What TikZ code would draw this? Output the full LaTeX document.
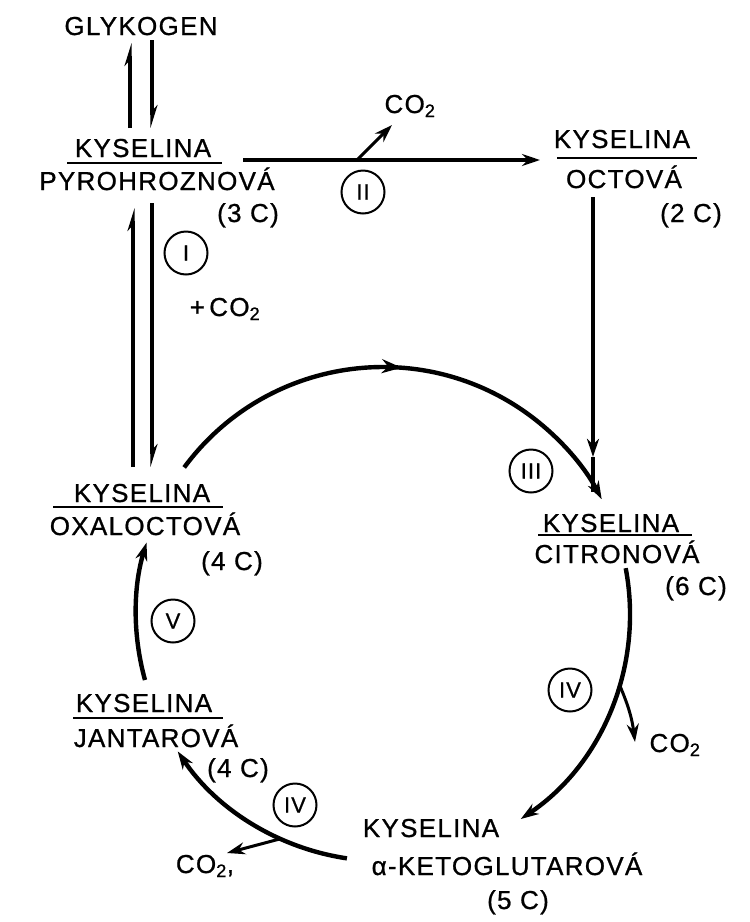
\documentclass[tikz,border=0pt]{standalone}
\usepackage{fontspec}
\setmainfont{Liberation Sans}[LetterSpace=5,FakeBold=0.8]
\usetikzlibrary{arrows.meta,decorations.markings,calc}
\begin{document}
\begin{tikzpicture}[x=1pt,y=-1pt,
  lbl/.style={inner sep=0pt, anchor=base, font=\fontsize{26}{30}\selectfont},
  num/.style={circle, draw, line width=2pt, minimum size=43pt, inner sep=0pt, font=\fontsize{22}{24}\selectfont},
  tip/.style={-{Stealth[length=18pt,width=12pt]}},
  hp/.style={-{Stealth[length=18pt,width=11pt,harpoon]}},
  thk/.style={line width=3.6pt},
  arcl/.style={line width=4.4pt},
  brl/.style={line width=3pt},
  uline/.style={line width=2.2pt},
  midarrow/.style={postaction={decorate}, decoration={markings, mark=at position 0.5 with {\arrow{Stealth[length=20pt,width=14pt]}}}}
]
\useasboundingbox (0,0) rectangle (750,922);

% labels
\node[lbl] (glyk) at (141,35) {GLYKOGEN};
\node[lbl] (pyrTop) at (143,157) {KYSELINA};
\node[lbl] (pyrBot) at (157,190) {PYROHROZNOVÁ};
\node[lbl] (pyrC) at (248,222) {(3 C)};
\node[lbl] (acTop) at (622,148) {KYSELINA};
\node[lbl] (acBot) at (624,188) {OCTOVÁ};
\node[lbl] (acC) at (691,222) {(2 C)};
\node[lbl] (co2a) at (410,113) {CO\textsubscript{2}};
\node[lbl] (oxTop) at (142,502) {KYSELINA};
\node[lbl] (oxBot) at (145,535) {OXALOCTOVÁ};
\node[lbl] (oxC) at (232,570) {(4 C)};
\node[lbl] (plus) at (225,316) {+\,CO\textsubscript{2}};
\node[lbl] (ciTop) at (611,532) {KYSELINA};
\node[lbl] (ciBot) at (617,563) {CITRONOVÁ};
\node[lbl] (ciC) at (696,595) {(6 C)};
\node[lbl] (co2b) at (675,752) {CO\textsubscript{2}};
\node[lbl] (jaTop) at (144,712) {KYSELINA};
\node[lbl] (jaBot) at (156,747) {JANTAROVÁ};
\node[lbl] (jaC) at (238,777) {(4 C)};
\node[lbl] (keTop) at (431,837) {KYSELINA};
\node[lbl] (keBot) at (507,875) {α-KETOGLUTAROVÁ};
\node[lbl] (keC) at (518,909) {(5 C)};
\node[lbl] (co2c) at (205,873) {CO\textsubscript{2},};

% step numbers
\node[num] (rI) at (186,253) {I};
\node[num] (rII) at (363,192) {II};
\node[num] (rIII) at (531,471) {III};
\node[num] (rIVa) at (570,690) {IV};
\node[num] (rIVb) at (295,805) {IV};
\node[num] (rV) at (173,621) {V};

% underlines
\draw[uline] ([shift={(-76,6)}]pyrTop.base) -- ([shift={(79,6)}]pyrTop.base);
\draw[uline] ([shift={(-65,10)}]acTop.base) -- ([shift={(75,10)}]acTop.base);
\draw[uline] ([shift={(-89,5)}]oxTop.base) -- ([shift={(81,5)}]oxTop.base);
\draw[uline] ([shift={(-73,3)}]ciTop.base) -- ([shift={(81,3)}]ciTop.base);
\draw[uline] ([shift={(-71,6)}]jaTop.base) -- ([shift={(79,6)}]jaTop.base);

% glycogen <-> pyruvic
\draw[thk,hp] ([shift={(-13,-29)}]pyrTop.base) -- ([shift={(-11,8)}]glyk.base);
\draw[thk,hp] ([shift={(11,5)}]glyk.base) -- ([shift={(9,-29)}]pyrTop.base);

% pyruvic <-> oxaloacetic
\draw[thk,hp] ([shift={(-9,-35)}]oxTop.base) -- ([shift={(-24,18)}]pyrBot.base);
\draw[thk,hp] ([shift={(-5,13)}]pyrBot.base) -- ([shift={(10,-35)}]oxTop.base);

% pyruvic -> acetic
\draw[thk,tip] ([shift={(100,3)}]pyrTop.base) -- coordinate[pos=0.384] (b2) ([shift={(-82,12)}]acTop.base);
\draw[brl,tip] (b2) -- ([shift={(-18,12)}]co2a.base);

% acetic -> citric
\path ([shift={(-31,9)}]acBot.base) -- coordinate[pos=0.881] (am) ([shift={(-18,-40)}]ciTop.base);
\draw[thk,tip] ([shift={(-31,9)}]acBot.base) -- (am);
\draw[thk] (am) -- ([shift={(-18,-40)}]ciTop.base);

% the cycle
\coordinate (cc) at (383,614);
\draw[arcl,tip,midarrow] ($(cc)+(-143.6:247)$) arc[start angle=-143.6, end angle=-27.7, radius=247];
\draw[arcl,tip] ($(cc)+(-10.7:247)$) arc[start angle=-10.7, end angle=56.1, radius=247];
\draw[arcl,tip] ($(cc)+(98.4:247)$) arc[start angle=98.4, end angle=146.2, radius=247];
\draw[arcl,tip] ($(cc)+(164.5:247)$) arc[start angle=164.5, end angle=196.8, radius=247];

% CO2 branches
\coordinate (brR) at ($(cc)+(16.7:247)$);
\draw[brl,tip] (brR) to[bend left=8] ([shift={(-40,-10)}]co2b.base);
\coordinate (brB) at ($(cc)+(114.5:247)$);
\draw[brl,tip] (brB) -- ([shift={(22,-20)}]co2c.base);
\end{tikzpicture}
\end{document}
